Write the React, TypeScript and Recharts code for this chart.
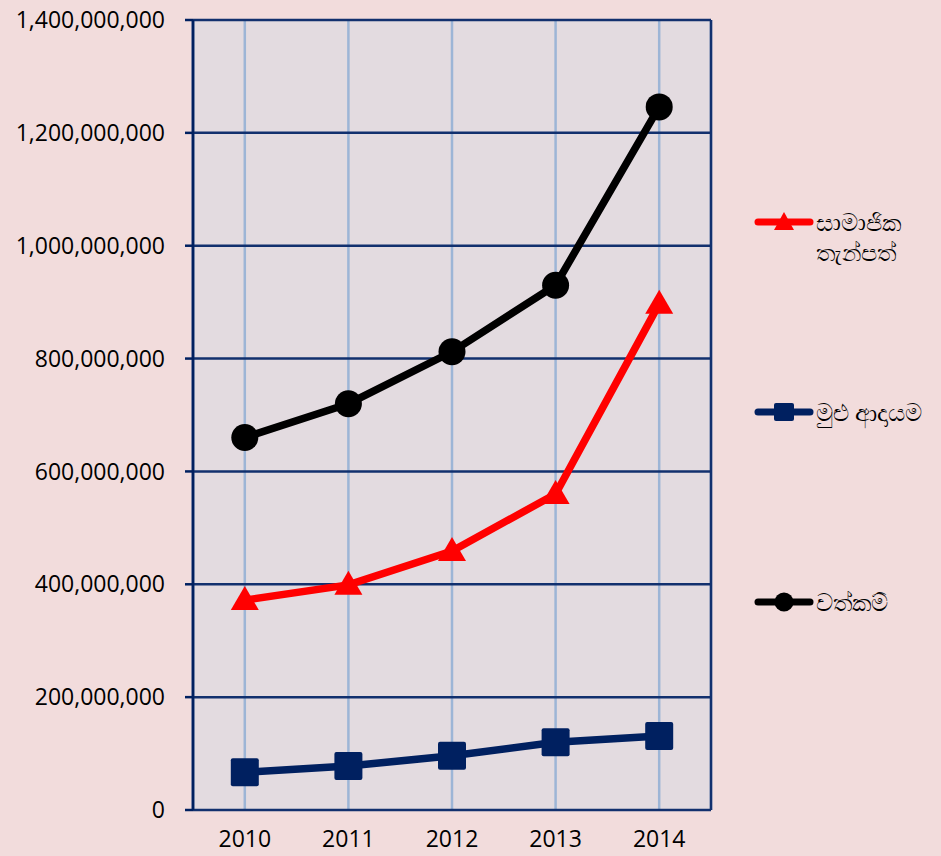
import { LineChart, Line, XAxis, YAxis, CartesianGrid } from "recharts";

const YEARS = ["2010", "2011", "2012", "2013", "2014"];
const DEPOSITS = [372e6, 399e6, 459e6, 560e6, 897e6];
const INCOME = [67e6, 78e6, 96e6, 120e6, 131e6];
const ASSETS = [660e6, 720e6, 812e6, 930e6, 1246e6];
const Y_TICKS = [0, 200e6, 400e6, 600e6, 800e6, 1000e6, 1200e6, 1400e6];
const BAND_TICKS = [0, 1, 2, 3, 4, 5];

const DATA = YEARS.map((year, i) => ({
  year,
  deposits: DEPOSITS[i],
  income: INCOME[i],
  assets: ASSETS[i],
}));

const NAVY = "#002060";
const RED = "#ff0000";
const BLACK = "#000000";
const FONT = "'Open Sans', 'Noto Sans', sans-serif";

function TriangleDot(p: any) {
  if (p.cx == null || p.cy == null) return null;
  const { cx, cy } = p;
  return <polygon points={`${cx},${cy - 14} ${cx + 14},${cy + 10} ${cx - 14},${cy + 10}`} fill={RED} />;
}

function SquareDot(p: any) {
  if (p.cx == null || p.cy == null) return null;
  return <rect x={p.cx - 14} y={p.cy - 14} width={28} height={28} rx={2} fill={NAVY} />;
}

function CircleDot(p: any) {
  if (p.cx == null || p.cy == null) return null;
  return <circle cx={p.cx} cy={p.cy} r={13.5} fill={BLACK} />;
}

const LEGEND = [
  { lines: ["සාමාජික", "තැන්පත්"], color: RED, shape: "triangle", top: 207 },
  { lines: ["මුළු ආදායම"], color: NAVY, shape: "square", top: 397 },
  { lines: ["වත්කම්"], color: BLACK, shape: "circle", top: 587 },
];

function LegendIcon({ color, shape }: { color: string; shape: string }) {
  return (
    <svg width={60} height={30} style={{ display: "block" }}>
      <line x1={4} y1={15} x2={56} y2={15} stroke={color} strokeWidth={7} strokeLinecap="round" />
      {shape === "triangle" && <polygon points="30,5 40,23 20,23" fill={color} />}
      {shape === "square" && <rect x={20} y={6} width={20} height={18} rx={2} fill={color} />}
      {shape === "circle" && <circle cx={30} cy={15} r={9.5} fill={color} />}
    </svg>
  );
}

export default function App() {
  return (
    <div style={{ position: "absolute", left: 0, top: 0, width: 941, height: 856, background: "#f2dcdc", fontFamily: FONT }}>
      <LineChart width={941} height={856} data={DATA} margin={{ top: 20, right: 230, left: 0, bottom: 0 }}>
        <XAxis
          xAxisId="band"
          type="number"
          domain={[0, 5]}
          ticks={BAND_TICKS}
          tick={false}
          height={0}
          axisLine={{ stroke: "#7f8591", strokeWidth: 3 }}
          tickLine={{ stroke: "#8a8a8a", strokeWidth: 2 }}
          tickSize={8}
        />
        <XAxis
          dataKey="year"
          height={46}
          axisLine={false}
          tickLine={false}
          tickMargin={15}
          padding={{ left: 51.8, right: 51.8 }}
          tick={{ fontSize: 23, fill: "#000", fontFamily: FONT }}
        />
        <YAxis
          width={193}
          domain={[0, 1400e6]}
          ticks={Y_TICKS}
          interval={0}
          tickFormatter={(v: number) => v.toLocaleString("en-US")}
          tick={{ fontSize: 23, fill: "#000", fontFamily: FONT }}
          axisLine={{ stroke: NAVY, strokeWidth: 2.5 }}
          tickLine={{ stroke: NAVY, strokeWidth: 2.5 }}
          tickSize={8}
          tickMargin={20}
        />
        <CartesianGrid fill="#e3dbe0" horizontal={false} stroke="#9db5d6" strokeWidth={2.5} />
        <CartesianGrid xAxisId="band" stroke="#12306e" strokeWidth={2.5} />
        <Line dataKey="deposits" stroke={RED} strokeWidth={7.5} dot={<TriangleDot />} isAnimationActive={false} />
        <Line dataKey="income" stroke={NAVY} strokeWidth={7.5} dot={<SquareDot />} isAnimationActive={false} />
        <Line dataKey="assets" stroke={BLACK} strokeWidth={7.5} dot={<CircleDot />} isAnimationActive={false} />
      </LineChart>
      {LEGEND.map((e) => (
        <div key={e.lines[0]} style={{ position: "absolute", left: 754, top: e.top, display: "flex", alignItems: "flex-start" }}>
          <LegendIcon color={e.color} shape={e.shape} />
          <div style={{ marginLeft: 2, fontSize: 24, lineHeight: "30px", color: "#000" }}>
            {e.lines.map((l) => (
              <div key={l}>{l}</div>
            ))}
          </div>
        </div>
      ))}
    </div>
  );
}
